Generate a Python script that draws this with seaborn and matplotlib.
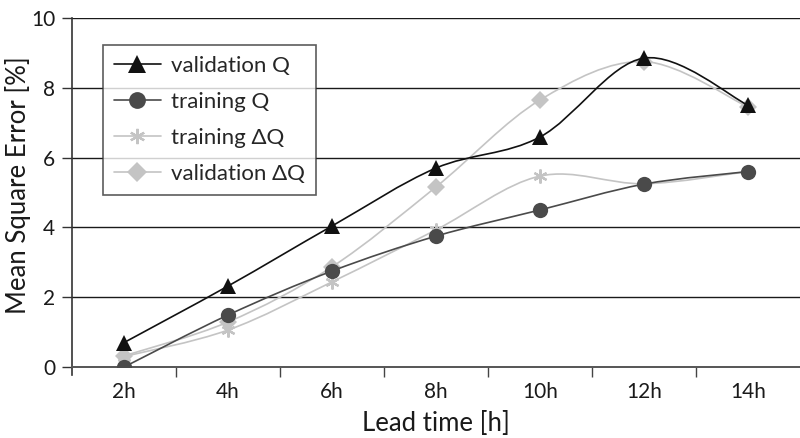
import numpy as np
import pandas as pd
import matplotlib
matplotlib.use("Agg")
import matplotlib.pyplot as plt
from matplotlib.path import Path
from matplotlib.patches import PathPatch
from matplotlib.lines import Line2D
import seaborn as sns

lead_times = ["2h", "4h", "6h", "8h", "10h", "12h", "14h"]
validation_q = [0.70, 2.32, 4.04, 5.70, 6.59, 8.85, 7.50]
training_q = [0.00, 1.49, 2.75, 3.75, 4.50, 5.24, 5.60]
training_dq = [0.30, 1.06, 2.44, 3.93, 5.47, 5.25, 5.60]
validation_dq = [0.32, 1.29, 2.87, 5.16, 7.65, 8.75, 7.45]
y_ticks = [0, 2, 4, 6, 8, 10]

sns.set_theme(style="white")
plt.rcParams["font.family"] = ["Lato", "DejaVu Sans"]

series = [
    ("validation Q", validation_q, "#111111", "^", 12, 1.2, 3),
    ("training Q", training_q, "#4a4a4a", "o", 11, 1.2, 4),
    ("training ΔQ", training_dq, "#c4c4c4", (6, 2, 0), 10, 1.2, 2),
    ("validation ΔQ", validation_dq, "#c4c4c4", "D", 9, 1.2, 1),
]

frames = []
for name, vals, *_ in series:
    frames.append(pd.DataFrame({"pos": np.arange(len(lead_times)),
                                "mse": vals, "series": name}))
df = pd.concat(frames, ignore_index=True)


def smooth_path(xs, ys):
    """Catmull-Rom style cubic Bezier through the points (spreadsheet 'smoothed line')."""
    pts = np.column_stack([xs, ys]).astype(float)
    n = len(pts)
    verts = [pts[0]]
    codes = [Path.MOVETO]
    for i in range(n - 1):
        p0 = pts[i - 1] if i > 0 else pts[i]
        p1 = pts[i]
        p2 = pts[i + 1]
        p3 = pts[i + 2] if i + 2 < n else pts[i + 1]
        c1 = p1 + (p2 - p0) / 6.0
        c2 = p2 - (p3 - p1) / 6.0
        verts += [c1, c2, p2]
        codes += [Path.CURVE4] * 3
    return Path(verts, codes)


fig = plt.figure(figsize=(8.0, 4.38), dpi=100)
ax = fig.add_axes([0.09, 0.162, 0.91, 0.797])

for y in y_ticks[1:]:
    ax.axhline(y, color="#1a1a1a", lw=1.0, zorder=0)

handles = []
for name, vals, color, marker, ms, lw, z in series:
    patch = PathPatch(smooth_path(np.arange(len(vals)), vals), facecolor="none",
                      edgecolor=color, lw=lw, zorder=z)
    ax.add_patch(patch)
    sub = df[df["series"] == name]
    mew = 1.6 if marker == (6, 2, 0) else 0
    sns.lineplot(data=sub, x="pos", y="mse", ax=ax, color=color, linestyle="",
                 marker=marker, markersize=ms, markeredgecolor=color,
                 markeredgewidth=mew, zorder=z + 0.5, legend=False)
    handles.append(Line2D([0], [0], color=color, lw=lw, marker=marker,
                          markersize=ms, markeredgecolor=color,
                          markeredgewidth=mew, label=name))

ax.set_xlim(-0.5, 6.5)
ax.set_ylim(0, 10)
ax.set_xticks(np.arange(len(lead_times)))
ax.set_xticklabels(lead_times)
ax.set_xticks(np.arange(0.5, 6.5, 1.0), minor=True)
ax.tick_params(axis="x", which="major", length=0, pad=11, labelsize=15, colors="#1a1a1a")
ax.tick_params(axis="x", which="minor", length=7, width=1.0, color="#444444", direction="out")
ax.set_yticks(y_ticks)
ax.tick_params(axis="y", length=7, width=1.0, color="#333333", direction="out",
               pad=5, labelsize=15, labelcolor="#1a1a1a", left=True)
ax.tick_params(axis="x", bottom=True, which="both")

for side in ("top", "right"):
    ax.spines[side].set_visible(False)
ax.spines["left"].set_color("#333333")
ax.spines["left"].set_linewidth(1.2)
ax.spines["left"].set_bounds(-0.22, 10)
ax.spines["bottom"].set_color("#555555")
ax.spines["bottom"].set_linewidth(1.4)

ax.set_xlabel("Lead time [h]", fontsize=18.5, color="#1a1a1a", labelpad=6)
ax.set_ylabel("Mean Square Error [%]", fontsize=18.5, color="#1a1a1a")
ax.yaxis.set_label_coords(-0.056, 0.52)

leg = ax.legend(handles=handles, loc="upper left", bbox_to_anchor=(0.0426, 0.923),
                borderaxespad=0, fontsize=16, frameon=True, fancybox=False,
                handlelength=2.1, borderpad=0.5, labelspacing=0.72,
                handletextpad=0.45, markerscale=1.1)
leg.get_frame().set_edgecolor("#333333")
leg.get_frame().set_linewidth(1.2)
leg.get_frame().set_facecolor("white")
leg.set_zorder(10)

fig.savefig("out.png", dpi=100)
